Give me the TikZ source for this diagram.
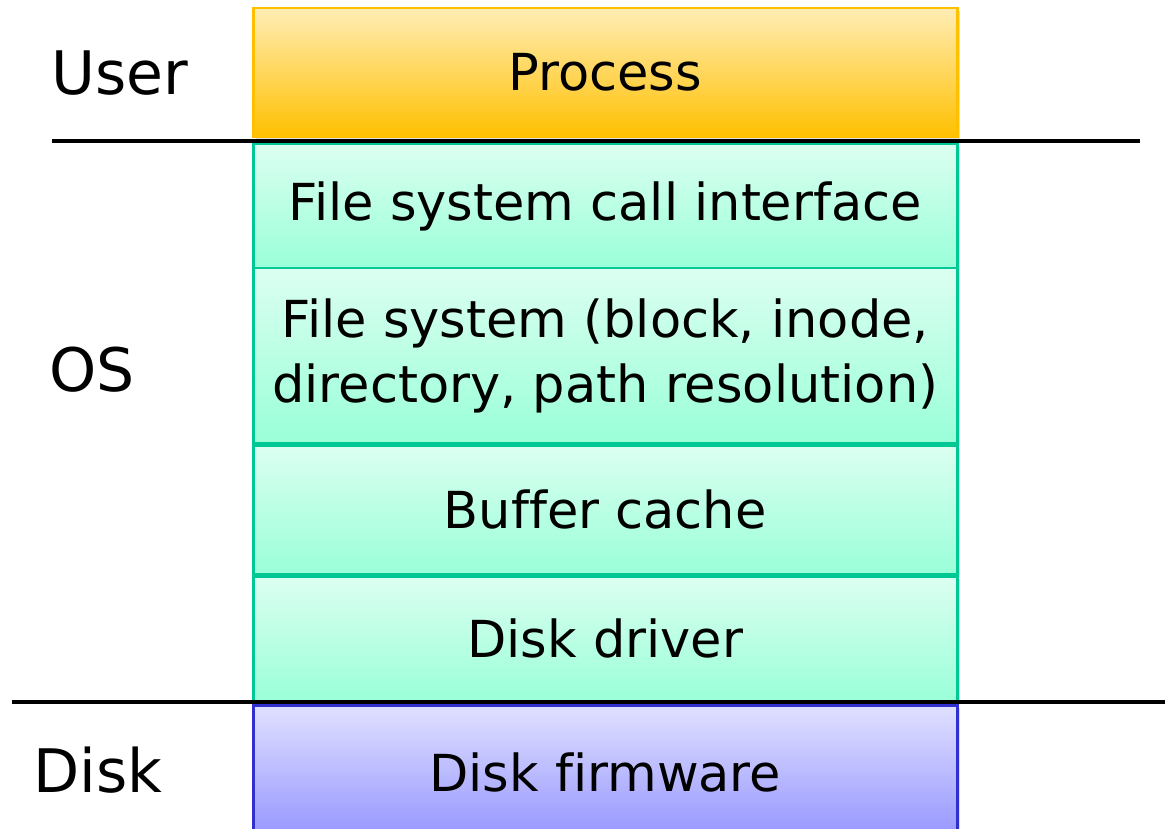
\documentclass[tikz,border=0pt]{standalone}
\usepackage{fontspec}
\setmainfont[Ligatures=NoCommon]{DejaVu Sans}
\usetikzlibrary{shadows}
\definecolor{procTop}{HTML}{FFEDB5}
\definecolor{procBot}{HTML}{FFC000}
\definecolor{procLine}{HTML}{FFC000}
\definecolor{osTop}{HTML}{DCFFF1}
\definecolor{osBot}{HTML}{99FFD8}
\definecolor{osLine}{HTML}{00C894}
\definecolor{dkTop}{HTML}{E0E0FF}
\definecolor{dkBot}{HTML}{9595FF}
\definecolor{dkLine}{HTML}{3030D0}
\tikzset{
  x=1pt, y=-1pt,
  layer/.style={draw, line width=2.5pt, minimum width=704pt, inner sep=0pt, align=center,
     font=\fontsize{51}{65}\selectfont, anchor=north west,
     drop shadow={shadow xshift=3pt, shadow yshift=-3pt, opacity=0.25}},
  proclayer/.style={layer, draw=procLine, top color=procTop, bottom color=procBot},
  oslayer/.style={layer, draw=osLine, top color=osTop, bottom color=osBot},
  dklayer/.style={layer, draw=dkLine, top color=dkTop, bottom color=dkBot},
  side/.style={font=\fontsize{60}{70}\selectfont, anchor=west},
  sep/.style={line width=4pt}
}
\begin{document}
\begin{tikzpicture}
\useasboundingbox (0,0) rectangle (1165,829);
\node[proclayer, minimum height=129pt] (proc) at (252,7) {Process};
\node[oslayer, minimum height=124pt] (fsci) at (252,143) {File system call interface};
\node[oslayer, minimum height=175pt] (fs) at (252,267) {File system (block, inode,\\directory, path resolution)};
\node[oslayer, minimum height=129pt] (bc) at (252,444) {Buffer cache};
\node[oslayer, minimum height=125pt] (dd) at (252,575) {Disk driver};
\node[dklayer, minimum height=134pt] (fw) at (252,704) {Disk firmware};
\node[side] (user) at (48,73) {User};
\node[side] (os) at (46,370) {OS};
\node[side] (disk) at (30,770) {Disk};
\coordinate (l1a) at (52,141);
\coordinate (l1b) at (1140,141);
\coordinate (l2a) at (12,702);
\coordinate (l2b) at (1165,702);
\draw[sep] (l1a) -- (l1b);
\draw[sep] (l2a) -- (l2b);
\end{tikzpicture}
\end{document}
